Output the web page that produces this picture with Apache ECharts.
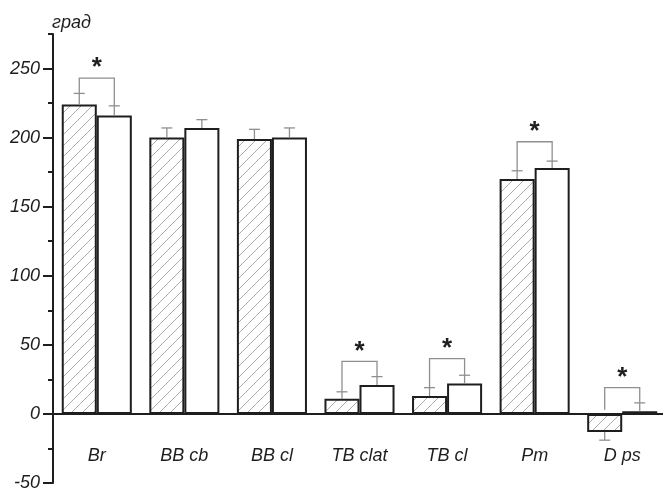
<!DOCTYPE html>
<html>
<head>
<meta charset="utf-8">
<script src="https://cdn.jsdelivr.net/npm/echarts@6/dist/echarts.min.js"></script>
<style>
    html, body { margin: 0; background: #fff; }
    #main { width: 663px; height: 490px; }
</style>
</head>
<body>
<div id="main"></div>
<script>
// данные
var categories = ['Br', 'BB cb', 'BB cl', 'TB clat', 'TB cl', 'Pm', 'D ps'];
var controlValues = [224, 200, 199, 11, 13, 170, -13];
var controlErrors = [8, 7, 7, 5, 6, 6, 6];
var testValues = [216, 207, 200, 21, 22, 178, 2];
var testErrors = [7, 6, 7, 6, 6, 5, 6];
var bracketLevels = [243, null, null, 38, 40, 197, 19]; // * уровни скобок
var majorTicks = [-50, 0, 50, 100, 150, 200, 250];
var minorTicks = [-25, 25, 75, 125, 175, 225, 275];

var font = 'Liberation Sans, Arial, sans-serif';
var ink = '#1e1e1e';
var grey = '#8f8f8f';

// штриховка
function makeHatch() {
    var c = document.createElement('canvas');
    c.width = 11;
    c.height = 11;
    var g = c.getContext('2d');
    g.fillStyle = '#fff';
    g.fillRect(0, 0, 11, 11);
    g.strokeStyle = '#ababab';
    g.lineWidth = 1;
    g.beginPath();
    g.moveTo(0, 11); g.lineTo(11, 0);
    g.moveTo(-2, 2); g.lineTo(2, -2);
    g.moveTo(9, 13); g.lineTo(13, 9);
    g.stroke();
    return c;
}

var errData = [];
for (var i = 0; i < categories.length; i++) {
    errData.push([i, controlValues[i], controlErrors[i], -1]);
    errData.push([i, testValues[i], testErrors[i], 1]);
}

var bracketData = [];
for (var i = 0; i < categories.length; i++) {
    if (bracketLevels[i] == null) continue;
    var left = Math.max(controlValues[i] + controlErrors[i], 3);
    var right = Math.max(testValues[i] + testErrors[i], 3);
    bracketData.push([i, bracketLevels[i], left, right]);
}

var mychart = echarts.init(document.getElementById('main'));

var labelStyle = {
    color: ink,
    fontStyle: 'italic',
    fontFamily: font,
    fontSize: 18
};

var option = {
    backgroundColor: '#fff',
    animation: false,
    grid: { left: 53, right: -3, top: 34, bottom: 7, outerBoundsMode: 'none', containLabel: false },
    graphic: [{
        type: 'text',
        left: 52,
        top: 14,
        style: {
            text: 'град',
            font: 'italic 18px ' + font,
            fill: ink
        }
    }],
    xAxis: [{
        // подписи категорий
        type: 'category',
        data: categories,
        position: 'bottom',
        axisLine: { show: false, onZero: false },
        axisTick: { show: false },
        axisLabel: Object.assign({ margin: -36 }, labelStyle)
    }, {
        // линия нуля
        type: 'category',
        data: categories,
        position: 'bottom',
        axisLine: { show: true, onZero: true, lineStyle: { color: ink, width: 2 } },
        axisTick: { show: false },
        axisLabel: { show: false }
    }],
    yAxis: [{
        type: 'value',
        min: -50,
        max: 275,
        splitLine: { show: false },
        axisLine: { show: true, onZero: false, lineStyle: { color: ink, width: 2 } },
        axisTick: { show: true, length: 10, customValues: majorTicks, lineStyle: { color: ink, width: 2 } },
        axisLabel: Object.assign({ margin: 13, customValues: majorTicks }, labelStyle)
    }, {
        type: 'value',
        min: -50,
        max: 275,
        position: 'left',
        offset: 0,
        splitLine: { show: false },
        axisLine: { show: false },
        axisTick: { show: true, length: 5, customValues: minorTicks, lineStyle: { color: ink, width: 2 } },
        axisLabel: { show: false }
    }],
    series: [{
        type: 'bar',
        data: controlValues,
        barWidth: '40%',
        barGap: '0%',
        itemStyle: {
            color: { image: makeHatch(), repeat: 'repeat' },
            borderColor: ink,
            borderWidth: 2
        }
    }, {
        type: 'bar',
        data: testValues,
        barWidth: '40%',
        barGap: '0%',
        itemStyle: {
            color: '#fff',
            borderColor: ink,
            borderWidth: 2
        }
    }, {
        // планки погрешностей
        type: 'custom',
        data: errData,
        z: 5,
        renderItem: function(params, api) {
            var idx = api.value(0);
            var v = api.value(1);
            var e = api.value(2);
            var side = api.value(3);
            var bw = api.size([1, 0])[0] * 0.4;
            var p1 = api.coord([idx, v]);
            var x = p1[0] + side * bw / 2;
            var p2 = api.coord([idx, v >= 0 ? v + e : v - e]);
            var st = { stroke: grey, lineWidth: 1.3 };
            return {
                type: 'group',
                children: [
                    { type: 'line', shape: { x1: x, y1: p1[1], x2: x, y2: p2[1] }, style: st },
                    { type: 'line', shape: { x1: x - 5.5, y1: p2[1], x2: x + 5.5, y2: p2[1] }, style: st }
                ]
            };
        }
    }, {
        // скобки значимости
        type: 'custom',
        data: bracketData,
        z: 6,
        renderItem: function(params, api) {
            var idx = api.value(0);
            var bw = api.size([1, 0])[0] * 0.4;
            var top = api.coord([idx, api.value(1)]);
            var l = api.coord([idx, api.value(2)]);
            var r = api.coord([idx, api.value(3)]);
            var xl = top[0] - bw / 2;
            var xr = top[0] + bw / 2;
            return {
                type: 'group',
                children: [{
                    type: 'polyline',
                    shape: { points: [[xl, l[1]], [xl, top[1]], [xr, top[1]], [xr, r[1]]] },
                    style: { stroke: grey, lineWidth: 1.3, fill: null }
                }, {
                    type: 'text',
                    x: top[0],
                    y: top[1] - 10,
                    style: {
                        text: '*',
                        font: 'bold 26px ' + font,
                        fill: ink,
                        align: 'center',
                        verticalAlign: 'middle'
                    }
                }]
            };
        }
    }]
};

mychart.setOption(option);
</script>
</body>
</html>
